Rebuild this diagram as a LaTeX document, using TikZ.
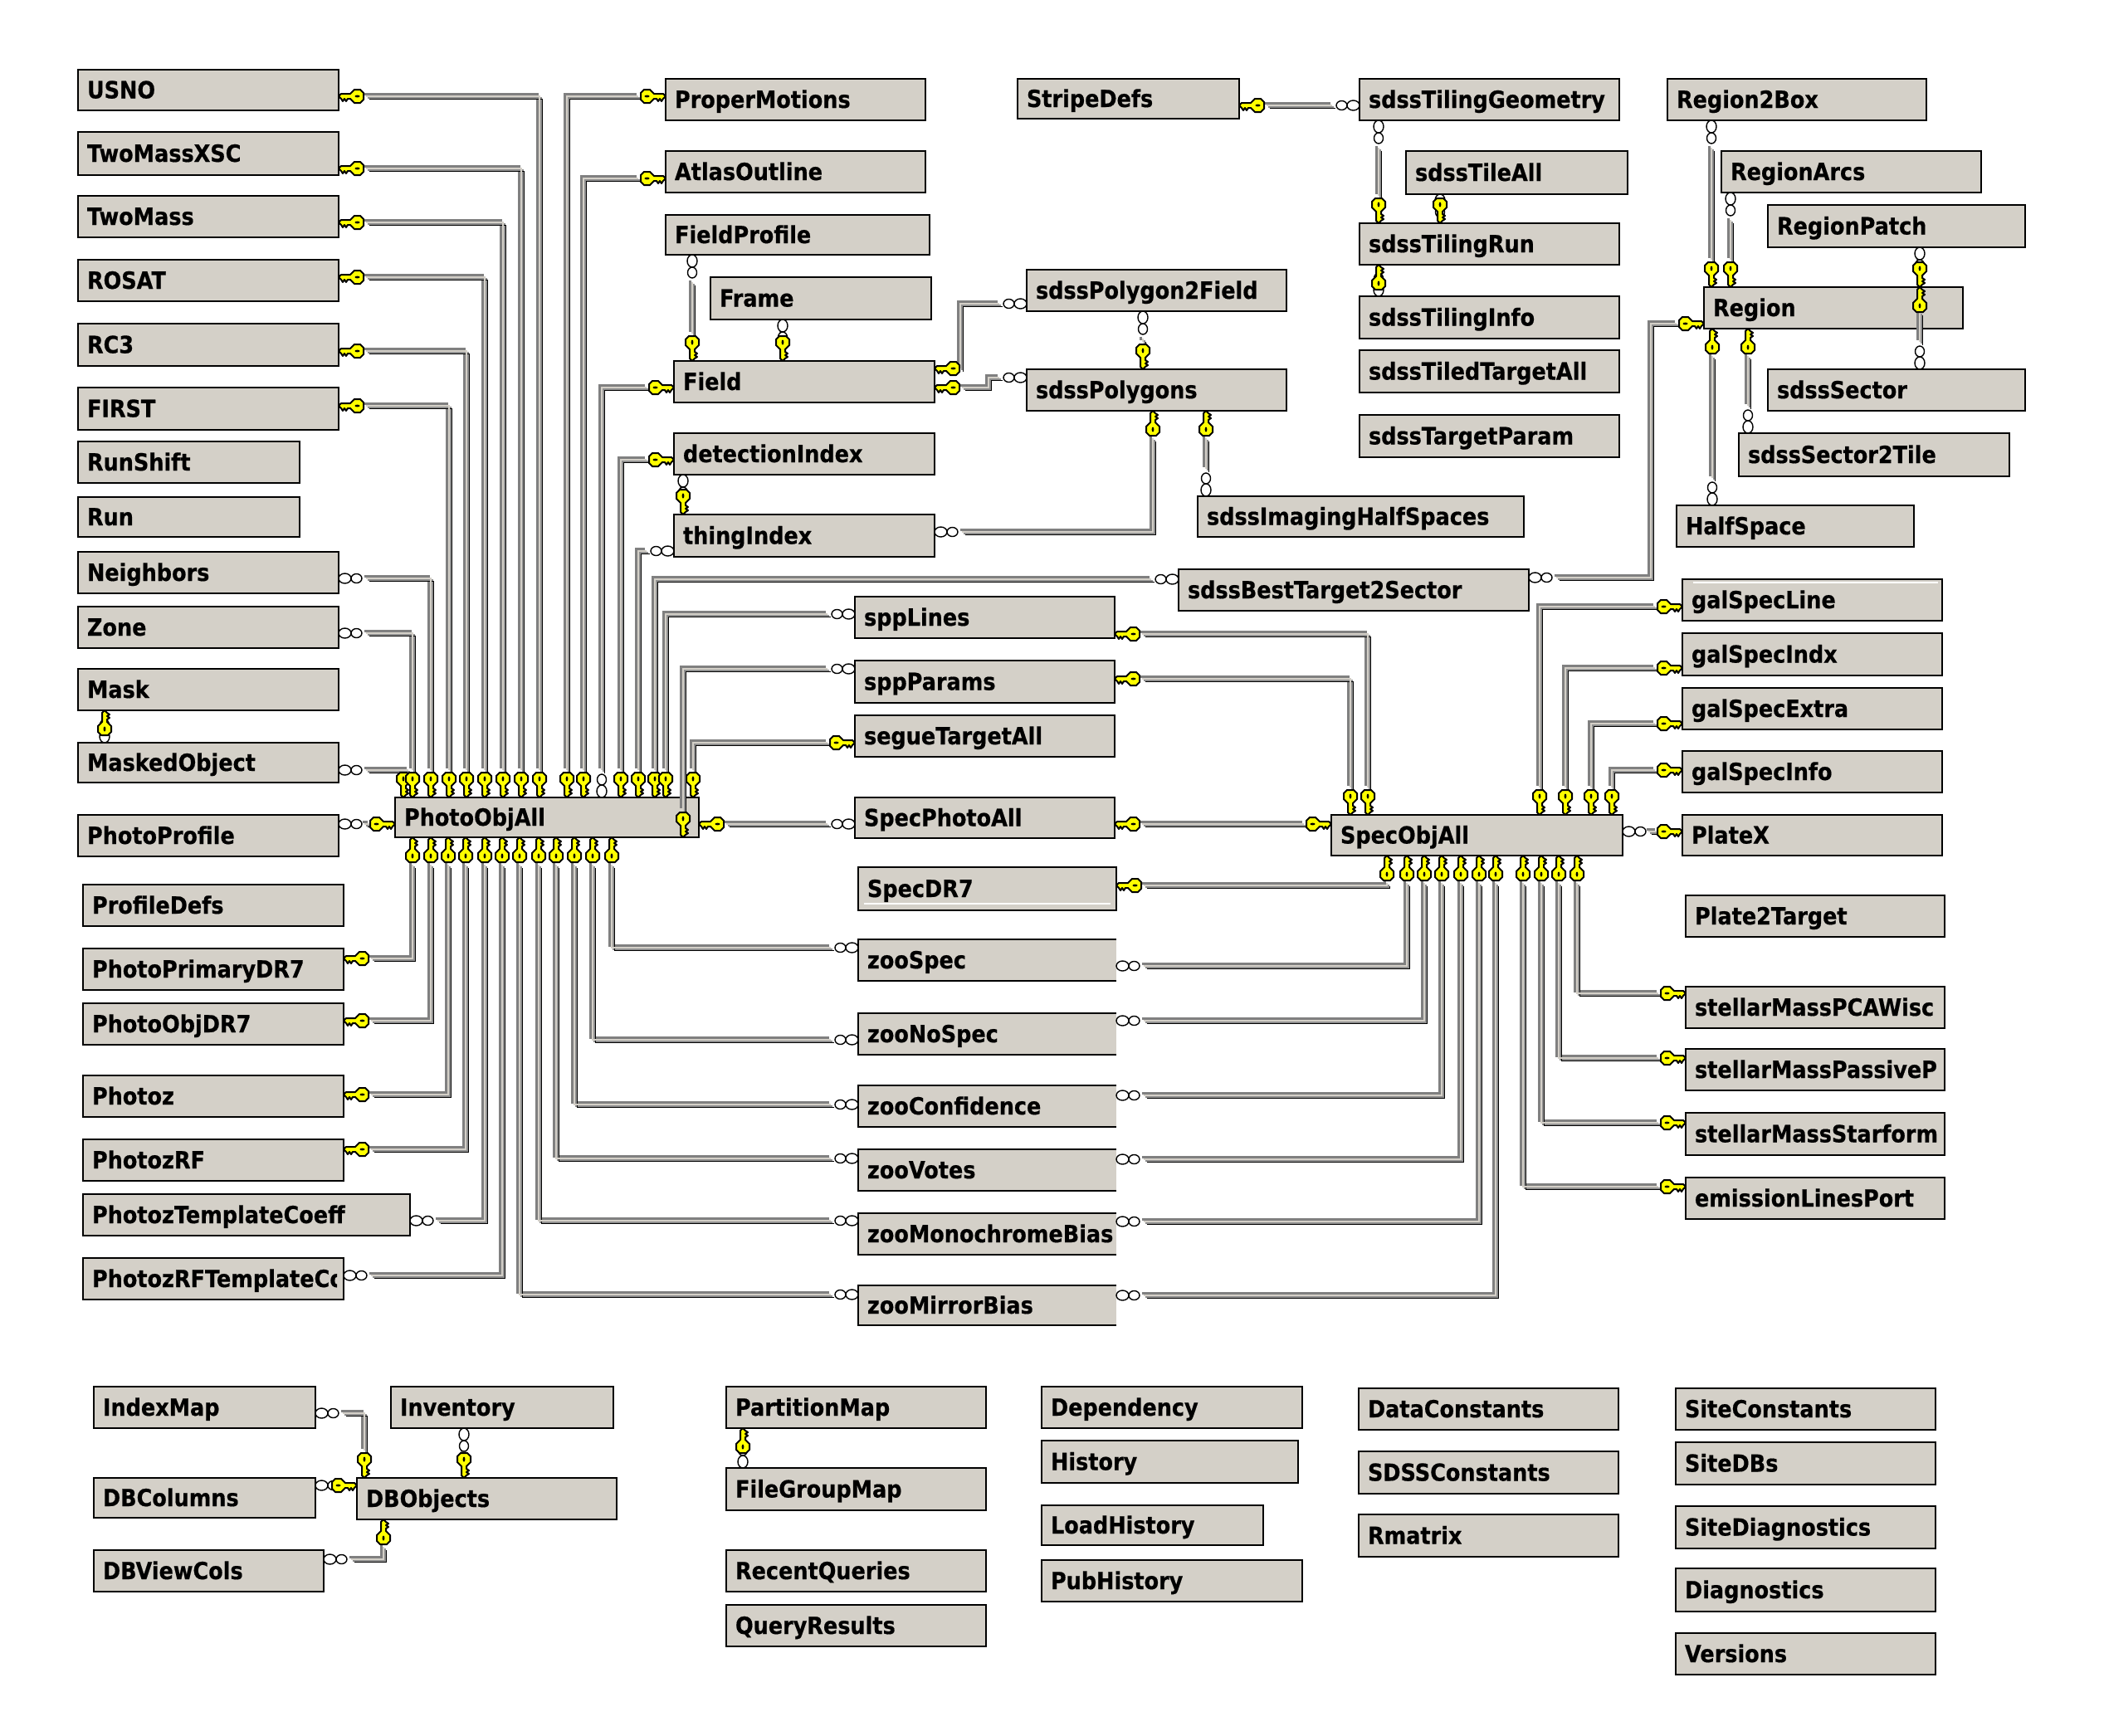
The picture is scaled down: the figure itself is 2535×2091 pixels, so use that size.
\documentclass[tikz,border=0pt]{standalone}
\usepackage{fontspec}
\usetikzlibrary{positioning}
\newfontfamily\tblfont[FakeStretch=0.895,BoldFeatures={FakeBold=0.5}]{DejaVu Sans}
\definecolor{tblgray}{HTML}{D4D0C8}
\definecolor{relgray}{HTML}{808080}
\definecolor{reldark}{HTML}{909090}
\definecolor{keyyellow}{HTML}{FFFF00}

\tikzset{
  tblbox/.style={draw,fill=tblgray,line width=2.4pt,inner xsep=11pt,inner ysep=0pt,outer sep=0pt,
                 anchor=north west,align=left,text height=24pt,text depth=4pt,
                 font=\tblfont\fontsize{28.5}{30}\selectfont\bfseries},
  tbl/.code 2 args={\pgfmathsetlengthmacro\tblw{#1-22}\tikzset{tblbox,text width=\tblw,minimum height=#2pt}},
  under/.style 2 args={below=#2pt of #1.south west,anchor=north west},
  rel/.style={draw=tblgray,line width=2.5pt,shorten <=33pt,shorten >=33pt,
              preaction={draw=relgray,line width=2.5pt,transform canvas={xshift=-2.5pt,yshift=2.5pt}},
              preaction={draw=reldark,line width=1.5pt,transform canvas={xshift=2pt,yshift=-2pt}},
              preaction={draw=black,line width=1.7pt,transform canvas={xshift=3.6pt,yshift=-3.6pt}}},
  endup/.style={},
  enddown/.style={yscale=-1},
  endleft/.style={cm={0,-1,-1,0,(0,0)}},
  endright/.style={cm={0,-1,1,0,(0,0)}},
  keyglyph/.pic={
    \draw[fill=keyyellow,line width=2pt,line join=round]
      (-4,-30) -- (4,-30) -- (8,-26) -- (8,-19) -- (3,-14) -- (3,-11) -- (6,-9) -- (3,-7)
      -- (6,-5) -- (3,-3) -- (0,0) -- (-3,-3) -- (-3,-14) -- (-8,-19) -- (-8,-26) -- cycle;
    \fill (0,-22.5) ellipse (1.4 and 3);
  },
  infglyph/.pic={
    \draw[fill=white,line width=1.4pt] (0,-7.5) ellipse (6 and 7.5);
    \draw[fill=white,line width=1.4pt] (0,-21.5) ellipse (5.5 and 6.5);
  }
}

\begin{document}
\begin{tikzpicture}[x=1pt,y=-1pt]
  \useasboundingbox (0,0) rectangle (2535,2091);

  % left column
  \node[tbl={314}{49}] (USNO) at (94,84) {USNO};
  \node[tbl={314}{52},under={USNO}{26}] (TwoMassXSC) {TwoMassXSC};
  \node[tbl={314}{50},under={TwoMassXSC}{25}] (TwoMass) {TwoMass};
  \node[tbl={314}{50},under={TwoMass}{27}] (ROSAT) {ROSAT};
  \node[tbl={314}{51},under={ROSAT}{27}] (RC3) {RC3};
  \node[tbl={314}{51},under={RC3}{26}] (FIRST) {FIRST};
  \node[tbl={267}{50},under={FIRST}{14}] (RunShift) {RunShift};
  \node[tbl={267}{48},under={RunShift}{17}] (Run) {Run};
  \node[tbl={314}{50},under={Run}{18}] (Neighbors) {Neighbors};
  \node[tbl={314}{50},under={Neighbors}{16}] (Zone) {Zone};
  \node[tbl={314}{50},under={Zone}{25}] (Mask) {Mask};
  \node[tbl={314}{48},under={Mask}{39}] (MaskedObject) {MaskedObject};
  \node[tbl={314}{50},under={MaskedObject}{39}] (PhotoProfile) {PhotoProfile};

  \node[tbl={314}{50}] (ProfileDefs) at (100,1066) {ProfileDefs};
  \node[tbl={314}{50},under={ProfileDefs}{27}] (PhotoPrimaryDR7) {PhotoPrimaryDR7};
  \node[tbl={314}{50},under={PhotoPrimaryDR7}{16}] (PhotoObjDR7) {PhotoObjDR7};
  \node[tbl={314}{50},under={PhotoObjDR7}{37}] (Photoz) {Photoz};
  \node[tbl={314}{50},under={Photoz}{27}] (PhotozRF) {PhotozRF};
  \node[tbl={394}{50},under={PhotozRF}{16}] (PhotozTemplateCoeff) {PhotozTemplateCoeff};
  \node[tbl={314}{50},under={PhotozTemplateCoeff}{27}] (PhotozRFTemplate) {};
  \begin{scope}
    \clip ([xshift=-8,yshift=-3]PhotozRFTemplate.north east) rectangle ([yshift=3]PhotozRFTemplate.south west);
    \node[tblbox,draw=none,fill=none,anchor=west] (PhotozRFTemplateText) at (PhotozRFTemplate.west) {PhotozRFTemplateCo};
  \end{scope}

  % the two big tables
  \node[tbl={366}{48}] (PhotoObjAll) at (476,961) {PhotoObjAll};
  \node[tbl={351}{49}] (SpecObjAll) at (1604,982) {SpecObjAll};

  % second column
  \node[tbl={313}{50}] (ProperMotions) at (802,95) {ProperMotions};
  \node[tbl={313}{50},under={ProperMotions}{37}] (AtlasOutline) {AtlasOutline};
  \node[tbl={318}{48},under={AtlasOutline}{27}] (FieldProfile) {FieldProfile};
  \node[tbl={266}{51}] (Frame) at (856,334) {Frame};
  \node[tbl={314}{50}] (Field) at (812,435) {Field};
  \node[tbl={314}{50},under={Field}{37}] (detectionIndex) {detectionIndex};
  \node[tbl={314}{51},under={detectionIndex}{48}] (thingIndex) {thingIndex};

  \node[tbl={313}{50}] (sppLines) at (1030,719) {sppLines};
  \node[tbl={313}{51},under={sppLines}{27}] (sppParams) {sppParams};
  \node[tbl={313}{50},under={sppParams}{15}] (segueTargetAll) {segueTargetAll};
  \node[tbl={313}{49},under={segueTargetAll}{49}] (SpecPhotoAll) {SpecPhotoAll};

  \node[tbl={311}{52}] (SpecDR7) at (1034,1045) {SpecDR7};
  \node[tbl={311}{50},under={SpecDR7}{35},draw=none] (zooSpec) {zooSpec};
  \node[tbl={311}{50},under={zooSpec}{39},draw=none] (zooNoSpec) {zooNoSpec};
  \node[tbl={311}{50},under={zooNoSpec}{37},draw=none] (zooConfidence) {zooConfidence};
  \node[tbl={311}{50},under={zooConfidence}{27},draw=none] (zooVotes) {zooVotes};
  \node[tbl={311}{50},under={zooVotes}{27},draw=none] (zooMonochromeBias) {zooMonochromeBias};
  \node[tbl={311}{48},under={zooMonochromeBias}{37},draw=none] (zooMirrorBias) {zooMirrorBias};
  \foreach \n in {zooSpec,zooNoSpec,zooConfidence,zooVotes,zooMonochromeBias,zooMirrorBias}
    \draw[line width=2.4pt] (\n.north east) -- (\n.north west) -- (\n.south west) -- (\n.south east);

  % sdss tables
  \node[tbl={267}{48}] (StripeDefs) at (1226,95) {StripeDefs};
  \node[tbl={313}{50}] (sdssPolygon2Field) at (1237,325) {sdssPolygon2Field};
  \node[tbl={313}{50},under={sdssPolygon2Field}{70}] (sdssPolygons) {sdssPolygons};
  \node[tbl={393}{49}] (sdssImagingHalfSpaces) at (1443,598) {sdssImagingHalfSpaces};
  \node[tbl={422}{50}] (sdssBestTarget2Sector) at (1420,686) {sdssBestTarget2Sector};

  \node[tbl={313}{50}] (sdssTilingGeometry) at (1638,95) {sdssTilingGeometry};
  \node[tbl={267}{52}] (sdssTileAll) at (1694,182) {sdssTileAll};
  \node[tbl={313}{50}] (sdssTilingRun) at (1638,269) {sdssTilingRun};
  \node[tbl={313}{51},under={sdssTilingRun}{38}] (sdssTilingInfo) {sdssTilingInfo};
  \node[tbl={313}{51},under={sdssTilingInfo}{14}] (sdssTiledTargetAll) {sdssTiledTargetAll};
  \node[tbl={313}{51},under={sdssTiledTargetAll}{27}] (sdssTargetParam) {sdssTargetParam};

  % regions
  \node[tbl={312}{50}] (Region2Box) at (2009,95) {Region2Box};
  \node[tbl={313}{50}] (RegionArcs) at (2074,182) {RegionArcs};
  \node[tbl={310}{51}] (RegionPatch) at (2130,247) {RegionPatch};
  \node[tbl={312}{50}] (Region) at (2053,346) {Region};
  \node[tbl={310}{50}] (sdssSector) at (2130,445) {sdssSector};
  \node[tbl={326}{52}] (sdssSector2Tile) at (2095,522) {sdssSector2Tile};
  \node[tbl={286}{50}] (HalfSpace) at (2020,609) {HalfSpace};

  % right column
  \node[tbl={313}{50}] (galSpecLine) at (2027,698) {galSpecLine};
  \node[tbl={313}{51},under={galSpecLine}{15}] (galSpecIndx) {galSpecIndx};
  \node[tbl={313}{50},under={galSpecIndx}{15}] (galSpecExtra) {galSpecExtra};
  \node[tbl={313}{50},under={galSpecExtra}{26}] (galSpecInfo) {galSpecInfo};
  \node[tbl={313}{49},under={galSpecInfo}{27}] (PlateX) {PlateX};
  \node[tbl={312}{50}] (Plate2Target) at (2031,1079) {Plate2Target};
  \node[tbl={312}{50},under={Plate2Target}{60}] (stellarMassPCAWisc) {stellarMassPCAWisc};
  \node[tbl={312}{50},under={stellarMassPCAWisc}{25}] (stellarMassPassiveP) {stellarMassPassiveP};
  \node[tbl={312}{51},under={stellarMassPassiveP}{27}] (stellarMassStarform) {stellarMassStarform};
  \node[tbl={312}{50},under={stellarMassStarform}{27}] (emissionLinesPort) {emissionLinesPort};

  % bottom rows
  \node[tbl={267}{50}] (IndexMap) at (113,1671) {IndexMap};
  \node[tbl={267}{48},under={IndexMap}{60}] (DBColumns) {DBColumns};
  \node[tbl={277}{50},under={DBColumns}{39}] (DBViewCols) {DBViewCols};
  \node[tbl={268}{50}] (Inventory) at (471,1671) {Inventory};
  \node[tbl={313}{50}] (DBObjects) at (430,1781) {DBObjects};

  \node[tbl={313}{50}] (PartitionMap) at (875,1671) {PartitionMap};
  \node[tbl={313}{51},under={PartitionMap}{48}] (FileGroupMap) {FileGroupMap};
  \node[tbl={313}{50},under={FileGroupMap}{48}] (RecentQueries) {RecentQueries};
  \node[tbl={313}{50},under={RecentQueries}{16}] (QueryResults) {QueryResults};

  \node[tbl={314}{50}] (Dependency) at (1255,1671) {Dependency};
  \node[tbl={309}{51},under={Dependency}{15}] (History) {History};
  \node[tbl={267}{48},under={History}{27}] (LoadHistory) {LoadHistory};
  \node[tbl={314}{50},under={LoadHistory}{18}] (PubHistory) {PubHistory};

  \node[tbl={313}{50}] (DataConstants) at (1637,1673) {DataConstants};
  \node[tbl={313}{51},under={DataConstants}{26}] (SDSSConstants) {SDSSConstants};
  \node[tbl={313}{51},under={SDSSConstants}{25}] (Rmatrix) {Rmatrix};

  \node[tbl={313}{50}] (SiteConstants) at (2019,1673) {SiteConstants};
  \node[tbl={313}{51},under={SiteConstants}{15}] (SiteDBs) {SiteDBs};
  \node[tbl={313}{51},under={SiteDBs}{26}] (SiteDiagnostics) {SiteDiagnostics};
  \node[tbl={313}{52},under={SiteDiagnostics}{24}] (Diagnostics) {Diagnostics};
  \node[tbl={313}{50},under={Diagnostics}{26}] (Versions) {Versions};

  % white streaks inside two of the boxes
  \draw[white,line width=1.2pt] ([xshift=7,yshift=8]SpecDR7.south west) -- ([xshift=-7,yshift=8]SpecDR7.south east);
  \draw[white,line width=1.2pt] ([xshift=13,yshift=-4]galSpecLine.north west) -- ([xshift=-5,yshift=-4]galSpecLine.north east);

  % into the top of PhotoObjAll
  \foreach \n/\d/\x in {USNO/32/174,TwoMassXSC/44/152,TwoMass/32/130,ROSAT/21/108,RC3/33/86,FIRST/22/65,Neighbors/32/43,Zone/32/21}
    \draw[rel] ([yshift=-\d]\n.north east) -| ([xshift=\x]PhotoObjAll.north west);
  \foreach \n/\d/\x in {ProperMotions/21/207,AtlasOutline/33/227,Field/32/249,detectionIndex/32/272,thingIndex/44/293,sdssBestTarget2Sector/12/313,sppLines/21/326,segueTargetAll/33/359}
    \draw[rel] ([yshift=-\d]\n.north west) -| ([xshift=\x]PhotoObjAll.north west);
  \draw[rel] ([yshift=-10]sppParams.north west) -| ([xshift=347]PhotoObjAll.south west);
  \draw[rel,shorten >=0pt] ([yshift=-33]MaskedObject.north east) -- ([xshift=16,yshift=33]PhotoObjAll.north west);
  \draw[rel,shorten <=31pt,shorten >=31pt] ([yshift=-11]PhotoProfile.north east) -- ([yshift=-32]PhotoObjAll.north west);

  % out of the bottom of PhotoObjAll
  \foreach \n/\d/\x in {PhotoPrimaryDR7/12/21,PhotoObjDR7/21/43,Photoz/23/64,PhotozRF/12/85,PhotozTemplateCoeff/32/108,PhotozRFTemplate/21/129}
    \draw[rel] ([yshift=-\d]\n.north east) -| ([xshift=\x]PhotoObjAll.south west);
  \foreach \n/\d/\x in {zooMirrorBias/11/150,zooMonochromeBias/9/173,zooVotes/11/194,zooConfidence/23/216,zooNoSpec/32/238,zooSpec/10/261}
    \draw[rel] ([yshift=-\d]\n.north west) -| ([xshift=\x]PhotoObjAll.south west);

  % SpecObjAll
  \foreach \n/\d/\x in {SpecDR7/22/67,zooSpec/32/91,zooNoSpec/9/112,zooConfidence/12/133,zooVotes/12/156,zooMonochromeBias/10/178,zooMirrorBias/12/198}
    \draw[rel] ([yshift=-\d]\n.north east) -| ([xshift=\x]SpecObjAll.south west);
  \foreach \n/\d/\x in {emissionLinesPort/11/231,stellarMassStarform/12/253,stellarMassPassiveP/11/274,stellarMassPCAWisc/8/296}
    \draw[rel] ([yshift=-\d]\n.north west) -| ([xshift=\x]SpecObjAll.south west);
  \foreach \n/\d/\x in {sppLines/45/44,sppParams/22/23}
    \draw[rel] ([yshift=-\d]\n.north east) -| ([xshift=\x]SpecObjAll.north west);
  \foreach \n/\d/\x in {galSpecLine/33/251,galSpecIndx/42/282,galSpecExtra/43/313,galSpecInfo/23/338}
    \draw[rel] ([yshift=-\d]\n.north west) -| ([xshift=\x]SpecObjAll.north west);
  \draw[rel] ([yshift=-32]PhotoObjAll.north east) -- ([yshift=-32]SpecPhotoAll.north west);
  \draw[rel] ([yshift=-32]SpecPhotoAll.north east) -- ([yshift=-11]SpecObjAll.north west);
  \draw[rel,shorten <=31pt,shorten >=31pt] ([yshift=-20]SpecObjAll.north east) -- ([yshift=-20]PlateX.north west);

  % Field and the polygons
  \draw[rel] ([xshift=32]FieldProfile.south west) -- ([xshift=22]Field.north west);
  \draw[rel,shorten <=15pt,shorten >=30pt] ([xshift=87]Frame.south west) -- ([xshift=131]Field.north west);
  \draw[rel,shorten <=16pt,shorten >=29pt] ([xshift=11]detectionIndex.south west) -- ([xshift=11]thingIndex.north west);
  \draw[rel,shorten >=0pt] ([yshift=-41]sdssPolygon2Field.north west) -| ([xshift=31,yshift=-9]Field.north east);
  \draw[rel] ([yshift=-10]sdssPolygons.north west) -| ([xshift=65,yshift=-32]Field.north east) -- ([yshift=-32]Field.north east);
  \draw[rel] ([xshift=140]sdssPolygon2Field.south west) -- ([xshift=140]sdssPolygons.north west);
  \draw[rel] ([yshift=-21]thingIndex.north east) -| ([xshift=152]sdssPolygons.south west);
  \draw[rel] ([xshift=216]sdssPolygons.south west) -- ([xshift=10]sdssImagingHalfSpaces.north west);

  % tiling
  \draw[rel] ([yshift=-32]StripeDefs.north east) -- ([yshift=-32]sdssTilingGeometry.north west);
  \draw[rel] ([xshift=23]sdssTilingGeometry.south west) -- ([xshift=23]sdssTilingRun.north west);
  \draw[rel,shorten <=15pt,shorten >=15pt] ([xshift=41]sdssTileAll.south west) -- ([xshift=97]sdssTilingRun.north west);
  \draw[rel,shorten <=15pt,shorten >=15pt] ([xshift=23]sdssTilingRun.south west) -- ([xshift=23]sdssTilingInfo.north west);

  % Region
  \draw[rel] ([yshift=-10]sdssBestTarget2Sector.north east) -| ([xshift=-64,yshift=-44]Region.north west) -- ([yshift=-44]Region.north west);
  \draw[rel] ([xshift=53]Region2Box.south west) -- ([xshift=9]Region.north west);
  \draw[rel] ([xshift=11]RegionArcs.south west) -- ([xshift=32]Region.north west);
  \draw[rel,shorten <=15pt,shorten >=30pt] ([xshift=183]RegionPatch.south west) -- ([xshift=260]Region.north west);
  \draw[rel,shorten >=30pt] ([xshift=183]sdssSector.north west) -- ([xshift=260]Region.north west);
  \draw[rel] ([xshift=10]Region.south west) -- ([xshift=43]HalfSpace.north west);
  \draw[rel] ([xshift=53]Region.south west) -- ([xshift=11]sdssSector2Tile.north west);

  % bottom group
  \draw[rel,shorten <=15pt,shorten >=15pt] ([xshift=32]Mask.south west) -- ([xshift=32]MaskedObject.north west);
  \draw[rel] ([yshift=-32]IndexMap.north east) -| ([xshift=9]DBObjects.north west);
  \draw[rel,shorten <=25pt,shorten >=25pt] ([xshift=88]Inventory.south west) -- ([xshift=129]DBObjects.north west);
  \draw[rel,shorten <=22pt,shorten >=22pt] ([yshift=-9]DBColumns.north east) -- ([yshift=-9]DBObjects.north west);
  \draw[rel] ([yshift=-11]DBViewCols.north east) -| ([xshift=32]DBObjects.south west);
  \draw[rel,shorten <=20pt,shorten >=20pt] ([xshift=20]PartitionMap.south west) -- ([xshift=20]FileGroupMap.north west);

  % many ends
  \foreach \n/\d in {Neighbors/32,Zone/32,MaskedObject/33,PhotoProfile/11,PhotozTemplateCoeff/32,PhotozRFTemplate/21,thingIndex/21,
                     sdssBestTarget2Sector/10,zooSpec/32,zooNoSpec/9,zooConfidence/12,zooVotes/12,zooMonochromeBias/10,zooMirrorBias/12,
                     SpecObjAll/20,IndexMap/32,DBColumns/9,DBViewCols/11}
    \pic[endright] at ([yshift=-\d]\n.north east) {infglyph};
  \foreach \n/\d in {thingIndex/44,sdssBestTarget2Sector/12,sppLines/21,sppParams/10,SpecPhotoAll/32,zooSpec/10,zooNoSpec/32,zooConfidence/23,
                     zooVotes/11,zooMonochromeBias/9,zooMirrorBias/11,sdssPolygon2Field/41,sdssPolygons/10,sdssTilingGeometry/32}
    \pic[endleft] at ([yshift=-\d]\n.north west) {infglyph};
  \foreach \n/\d in {FieldProfile/32,Frame/87,sdssPolygon2Field/140,sdssTilingGeometry/23,sdssTileAll/41,Region2Box/53,RegionArcs/11,
                     RegionPatch/183,detectionIndex/11,Inventory/88}
    \pic[enddown] at ([xshift=\d]\n.south west) {infglyph};
  \foreach \n/\d in {sdssImagingHalfSpaces/10,HalfSpace/43,sdssSector2Tile/11,sdssSector/183,sdssTilingInfo/23,MaskedObject/32,FileGroupMap/20,PhotoObjAll/249}
    \pic[endup] at ([xshift=\d]\n.north west) {infglyph};

  % one ends
  \foreach \n/\d in {USNO/32,TwoMassXSC/44,TwoMass/32,ROSAT/21,RC3/33,FIRST/22,PhotoPrimaryDR7/12,PhotoObjDR7/21,Photoz/23,PhotozRF/12,
                     sppLines/45,sppParams/22,SpecPhotoAll/32,SpecDR7/22,PhotoObjAll/32,StripeDefs/32,Field/9,Field/32}
    \pic[endright] at ([yshift=-\d]\n.north east) {keyglyph};
  \foreach \n/\d in {ProperMotions/21,AtlasOutline/33,Field/32,detectionIndex/32,segueTargetAll/33,Region/44,galSpecLine/33,galSpecIndx/42,
                     galSpecExtra/43,galSpecInfo/23,PlateX/20,stellarMassPCAWisc/8,stellarMassPassiveP/11,stellarMassStarform/12,
                     emissionLinesPort/11,SpecObjAll/11,PhotoObjAll/32,DBObjects/9}
    \pic[endleft] at ([yshift=-\d]\n.north west) {keyglyph};
  \foreach \x in {10,21,43,65,86,108,130,152,174,207,227,272,293,313,326,359}
    \pic[endup] at ([xshift=\x]PhotoObjAll.north west) {keyglyph};
  \pic[endup] at ([xshift=347]PhotoObjAll.south west) {keyglyph};
  \foreach \x in {21,43,64,85,108,129,150,173,194,216,238,261}
    \pic[enddown] at ([xshift=\x]PhotoObjAll.south west) {keyglyph};
  \foreach \x in {67,91,112,133,156,178,198,231,253,274,296}
    \pic[enddown] at ([xshift=\x]SpecObjAll.south west) {keyglyph};
  \foreach \x in {23,44,251,282,313,338}
    \pic[endup] at ([xshift=\x]SpecObjAll.north west) {keyglyph};
  \foreach \n/\d in {Field/22,Field/131,sdssTilingRun/23,sdssTilingRun/97,Region/9,Region/32,Region/260,sdssPolygons/140,thingIndex/11,DBObjects/9,DBObjects/129}
    \pic[endup] at ([xshift=\d]\n.north west) {keyglyph};
  \foreach \n/\d in {sdssPolygons/152,sdssPolygons/216,Region/10,Region/53,sdssTilingRun/23,Mask/32,PartitionMap/20,DBObjects/32}
    \pic[enddown] at ([xshift=\d]\n.south west) {keyglyph};
  \pic[enddown] at ([xshift=260]Region.north west) {keyglyph};
\end{tikzpicture}
\end{document}
